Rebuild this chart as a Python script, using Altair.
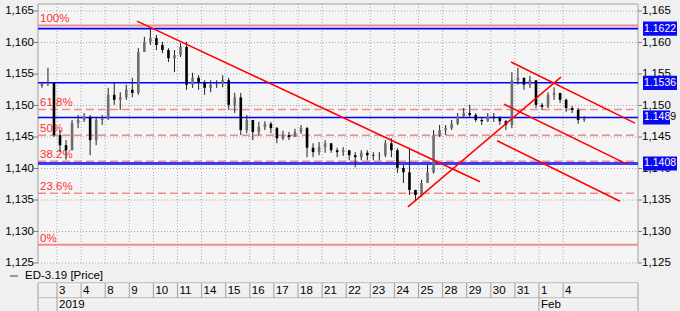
import altair as alt
import pandas as pd

# ---------------- data ----------------
day_labels = ["3", "4", "8", "9", "10", "11", "14", "15", "16", "17", "18",
              "21", "22", "23", "24", "25", "28", "29", "30", "31", "1", "4"]
month_labels = ["2019", "Feb"]
month_first_day = [0, 20]

price_ticks = [1.125, 1.130, 1.135, 1.140, 1.145, 1.150, 1.155, 1.160, 1.165]
price_tick_labels = ["1,125", "1,130", "1,135", "1,140", "1,145", "1,150", "1,155", "1,160", "1,165"]

# 4 bars per session; the first, partly visible session (2 Jan) shows its last 3
bars_per_session = [3] + [4] * 22
first_open = 1.1531
close = [1.1534, 1.1536, 1.1453,
         1.1437, 1.1429, 1.1472, 1.1477,
         1.1482, 1.1445, 1.1477, 1.1480,
         1.1517, 1.1509, 1.1513, 1.1525,
         1.1520, 1.1585, 1.1601, 1.1607,
         1.1596, 1.1588, 1.1575, 1.1580,
         1.1593, 1.1533, 1.1544, 1.1536,
         1.1528, 1.1533, 1.1534, 1.1540,
         1.1501, 1.1513, 1.1461, 1.1477,
         1.1458, 1.1466, 1.1471, 1.1464,
         1.1448, 1.1453, 1.1450, 1.1458,
         1.1464, 1.1433, 1.1426, 1.1434,
         1.1440, 1.1429, 1.1426, 1.1429,
         1.1421, 1.1418, 1.1425, 1.1421,
         1.1420, 1.1421, 1.1440, 1.1429,
         1.1401, 1.1394, 1.1366, 1.1358,
         1.1377, 1.1394, 1.1453, 1.1461,
         1.1464, 1.1471, 1.1483, 1.1488,
         1.1485, 1.1477, 1.1475, 1.1482,
         1.1480, 1.1475, 1.1469, 1.1540,
         1.1544, 1.1533, 1.1540, 1.1501,
         1.1498, 1.1517, 1.1520, 1.1509,
         1.1496, 1.1493, 1.1477, 1.1479]
high = [1.1537, 1.1560, 1.1537,
        1.1461, 1.1445, 1.1477, 1.1485,
        1.1488, 1.1485, 1.1482, 1.1485,
        1.1528, 1.1537, 1.1521, 1.1533,
        1.1544, 1.1591, 1.1609, 1.1623,
        1.1612, 1.1601, 1.1591, 1.1588,
        1.1599, 1.1601, 1.1552, 1.1548,
        1.1540, 1.1540, 1.1540, 1.1548,
        1.1544, 1.1520, 1.1520, 1.1485,
        1.1477, 1.1474, 1.1475, 1.1474,
        1.1466, 1.1460, 1.1458, 1.1463,
        1.1469, 1.1466, 1.1440, 1.1442,
        1.1445, 1.1440, 1.1433, 1.1434,
        1.1429, 1.1426, 1.1429, 1.1429,
        1.1426, 1.1426, 1.1445, 1.1448,
        1.1432, 1.1406, 1.1433, 1.1366,
        1.1382, 1.1406, 1.1461, 1.1469,
        1.1469, 1.1477, 1.1488, 1.1496,
        1.1501, 1.1488, 1.1482, 1.1488,
        1.1488, 1.1483, 1.1477, 1.1553,
        1.1560, 1.1544, 1.1547, 1.1540,
        1.1504, 1.1521, 1.1529, 1.1520,
        1.1511, 1.1499, 1.1496, 1.1483]
low = [1.1528, 1.1531, 1.1450,
       1.1426, 1.1414, 1.1429, 1.1464,
       1.1474, 1.1421, 1.1437, 1.1469,
       1.1477, 1.1501, 1.1493, 1.1509,
       1.1513, 1.1517, 1.1585, 1.1596,
       1.1588, 1.1583, 1.1569, 1.1553,
       1.1577, 1.1525, 1.1528, 1.1525,
       1.1517, 1.1521, 1.1528, 1.1529,
       1.1493, 1.1488, 1.1453, 1.1456,
       1.1445, 1.1453, 1.1461, 1.1456,
       1.1440, 1.1445, 1.1445, 1.1450,
       1.1455, 1.1418, 1.1418, 1.1421,
       1.1425, 1.1425, 1.1418, 1.1420,
       1.1413, 1.1402, 1.1413, 1.1413,
       1.1413, 1.1413, 1.1418, 1.1418,
       1.1393, 1.1377, 1.1358, 1.1348,
       1.1355, 1.1377, 1.1392, 1.1450,
       1.1453, 1.1461, 1.1469, 1.1480,
       1.1480, 1.1474, 1.1469, 1.1474,
       1.1474, 1.1469, 1.1461, 1.1464,
       1.1533, 1.1525, 1.1528, 1.1496,
       1.1493, 1.1496, 1.1509, 1.1504,
       1.1490, 1.1488, 1.1471, 1.1474]

fib_levels = [1.1627, 1.14937, 1.14527, 1.14116, 1.13608, 1.1279]
fib_labels = ["100%", "61.8%", "50%", "38.2%", "23.6%", "0%"]
fib_solid = [True, False, False, False, False, True]

level_prices = [1.1622, 1.1536, 1.1481, 1.1408]
level_tags = ["1.1622", "1.1536", "1.148", "1.1408"]
level_full_tag = "1.1489"

# trend lines (session index units, price)
trend_t1 = [3.32, 14.56, 18.84, 18.55, 18.26]
trend_p1 = [1.1634, 1.1339, 1.1569, 1.1502, 1.1444]
trend_t2 = [17.55, 20.91, 23.98, 23.65, 23.36]
trend_p2 = [1.1379, 1.1545, 1.1472, 1.1407, 1.1348]

series_name = "ED-3.19 [Price]"

# ---------------- layout constants ----------------
W, H = 680, 311
PX_DAY = 24.1
X0 = -57 / PX_DAY
X1 = (W - 57) / PX_DAY
Y_TOP = 1.165 + 11 / 6300
Y_BOT = 1.125 - 48 / 6300
T_LEFT = (38 - 57) / PX_DAY
T_RIGHT = (638 - 57) / PX_DAY
P_TOP = 1.165 + 7 / 6300
P_BOT = 1.125
HALF = 1.3 / PX_DAY
FONT = "Liberation Sans"

xs = alt.Scale(domain=[X0, X1], nice=False, zero=False)
ys = alt.Scale(domain=[Y_BOT, Y_TOP], nice=False, zero=False)


def X(f):
    return alt.X(f, type="quantitative", scale=xs, axis=None)


def Y(f):
    return alt.Y(f, type="quantitative", scale=ys, axis=None)


# candles
rows = []
prev = first_open
i = 0
for s, n in enumerate(bars_per_session):
    day = s - 1
    for j in range(n):
        slot = 4 - n + j
        t = day + (slot + 0.5) / 4
        o, c = prev, close[i]
        rows.append(dict(t=t, t0=t - HALF, t1=t + HALF, o=o, c=c, h=high[i], l=low[i],
                         dir="up" if c >= o else "down"))
        prev = c
        i += 1
candles = pd.DataFrame(rows)

frame = pd.DataFrame([dict(t0=T_LEFT, t1=T_RIGHT, p0=P_BOT, p1=P_TOP)])
vgrid = pd.DataFrame(dict(t=list(range(len(day_labels))), p0=P_BOT, p1=P_TOP))
hgrid = pd.DataFrame(dict(p=price_ticks, lab=price_tick_labels, t0=T_LEFT, t1=T_RIGHT))
fib = pd.DataFrame(dict(p=fib_levels, lab=fib_labels, solid=fib_solid, t0=T_LEFT, t1=T_RIGHT))
lev = pd.DataFrame(dict(p=level_prices, tag=level_tags, t0=T_LEFT, t1=T_RIGHT))
lev["b0"] = lev["p"] - 0.00112
lev["b1"] = lev["p"] + 0.00112
trend = pd.DataFrame(dict(t1=trend_t1, p1=trend_p1, t2=trend_t2, p2=trend_p2))
days = pd.DataFrame(dict(t=list(range(len(day_labels))), lab=day_labels))
months = pd.DataFrame(dict(t=month_first_day, lab=month_labels))

layers = []

# plot background
layers.append(alt.Chart(frame).mark_rect(color="#f5f5f5").encode(
    x=X("t0"), x2="t1", y=Y("p0"), y2="p1"))

# grid
layers.append(alt.Chart(vgrid).mark_rule(color="#a8a8a8", strokeDash=[1, 2], strokeWidth=1).encode(
    x=X("t"), y=Y("p0"), y2="p1"))
layers.append(alt.Chart(hgrid).mark_rule(color="#a8a8a8", strokeDash=[1, 2], strokeWidth=1).encode(
    x=X("t0"), x2="t1", y=Y("p")))

# frame borders
layers.append(alt.Chart(frame).mark_rule(color="#a0a0a0", strokeWidth=1).encode(
    x=X("t0"), y=Y("p0"), y2="p1"))
layers.append(alt.Chart(frame).mark_rule(color="#a0a0a0", strokeWidth=1).encode(
    x=X("t1"), y=Y("p0"), y2="p1"))
layers.append(alt.Chart(frame).mark_rule(color="#a0a0a0", strokeWidth=1).encode(
    x=X("t0"), x2="t1", y=Y("p1")))

# fib levels
layers.append(alt.Chart(fib[fib["solid"]]).mark_rule(color="#f28c8c", strokeWidth=2).encode(
    x=X("t0"), x2="t1", y=Y("p")))
layers.append(alt.Chart(fib[~fib["solid"]]).mark_rule(color="#f28c8c", strokeWidth=1.6, strokeDash=[8, 4]).encode(
    x=X("t0"), x2="t1", y=Y("p")))
layers.append(alt.Chart(fib).mark_text(color="#ff3030", font=FONT, fontSize=11.5, align="left",
                                       baseline="bottom", dy=-1).encode(
    x=alt.value(40), y=Y("p"), text="lab:N"))

# blue levels
layers.append(alt.Chart(lev[lev["p"] != 1.1408]).mark_rule(color="#0000ff", strokeWidth=1.6).encode(
    x=X("t0"), x2="t1", y=Y("p")))
layers.append(alt.Chart(lev[lev["p"] == 1.1408]).mark_rule(color="#3c3cff", strokeWidth=3).encode(
    x=X("t0"), x2="t1", y=Y("p")))

# candles
layers.append(alt.Chart(candles).mark_rule(color="#202020", strokeWidth=1).encode(
    x=X("t"), y=Y("l"), y2="h"))
layers.append(alt.Chart(candles).mark_rect().encode(
    x=X("t0"), x2="t1", y=Y("o"), y2="c",
    color=alt.Color("dir:N", scale=alt.Scale(domain=["up", "down"], range=["#6e6e6e", "#000000"]),
                    legend=None)))

# trend lines
layers.append(alt.Chart(trend).mark_rule(color="#ff0000", strokeWidth=1.5).encode(
    x=X("t1"), x2="t2", y=Y("p1"), y2="p2"))

# axis ticks and labels
layers.append(alt.Chart(hgrid).mark_rule(color="#808080").encode(
    x=alt.value(34), x2=alt.value(38), y=Y("p")))
layers.append(alt.Chart(hgrid).mark_rule(color="#808080").encode(
    x=alt.value(638), x2=alt.value(642), y=Y("p")))
layers.append(alt.Chart(hgrid).mark_text(font=FONT, fontSize=11.5, align="right", baseline="middle",
                                         color="#000000").encode(
    x=alt.value(34), y=Y("p"), text="lab:N"))
layers.append(alt.Chart(hgrid).mark_text(font=FONT, fontSize=11.5, align="left", baseline="middle",
                                         color="#000000").encode(
    x=alt.value(642), y=Y("p"), text="lab:N"))

# level tags on the right
odd = lev[lev["tag"] == "1.148"].copy()
odd["full"] = level_full_tag
layers.append(alt.Chart(odd).mark_text(font=FONT, fontSize=10.5, align="left", baseline="middle",
                                       color="#000000").encode(
    x=alt.value(644), y=Y("p"), text="full:N"))
layers.append(alt.Chart(lev[lev["tag"] != "1.148"]).mark_rect(color="#0a0af0").encode(
    x=alt.value(643), x2=alt.value(677), y=Y("b0"), y2="b1"))
layers.append(alt.Chart(odd).mark_rect(color="#0a0af0").encode(
    x=alt.value(643), x2=alt.value(670), y=Y("b0"), y2="b1"))
layers.append(alt.Chart(lev).mark_text(font=FONT, fontSize=10.5, align="left", baseline="middle",
                                       color="#ffffff").encode(
    x=alt.value(644), y=Y("p"), text="tag:N"))

# legend
layers.append(alt.Chart(frame).mark_rule(color="#404040", strokeWidth=1).encode(
    x=alt.value(10), x2=alt.value(18), y=alt.value(276)))
layers.append(alt.Chart(frame).mark_text(font=FONT, fontSize=11.5, align="left", baseline="middle",
                                         text=series_name, color="#000000").encode(
    x=alt.value(25), y=alt.value(276)))

# date table
for yy in (283, 298):
    layers.append(alt.Chart(frame).mark_rule(color="#a0a0a0").encode(
        x=alt.value(38), x2=alt.value(638), y=alt.value(yy)))
    layers.append(alt.Chart(frame).mark_rule(color="#ffffff").encode(
        x=alt.value(38), x2=alt.value(638), y=alt.value(yy + 1)))
layers.append(alt.Chart(frame).mark_rule(color="#a0a0a0").encode(
    x=alt.value(38), y=alt.value(283), y2=alt.value(311)))
layers.append(alt.Chart(frame).mark_rule(color="#a0a0a0").encode(
    x=alt.value(638), y=alt.value(283), y2=alt.value(311)))
layers.append(alt.Chart(days).mark_rule(color="#a0a0a0").encode(
    x=X("t"), y=alt.value(283), y2=alt.value(298)))
layers.append(alt.Chart(months).mark_rule(color="#a0a0a0").encode(
    x=X("t"), y=alt.value(298), y2=alt.value(311)))
layers.append(alt.Chart(days).mark_text(font=FONT, fontSize=11.5, align="left", baseline="middle",
                                        dx=2, color="#000000").encode(
    x=X("t"), y=alt.value(291), text="lab:N"))
layers.append(alt.Chart(months).mark_text(font=FONT, fontSize=11.5, align="left", baseline="middle",
                                          dx=2, color="#000000").encode(
    x=X("t"), y=alt.value(305), text="lab:N"))

chart = alt.layer(*layers).properties(
    width=W, height=H, background="#f0f0f0", padding=0,
    autosize=alt.AutoSizeParams(type="none")
).configure_view(strokeWidth=0)

chart.save("out.html", embed_options={"renderer": "svg", "actions": False})
